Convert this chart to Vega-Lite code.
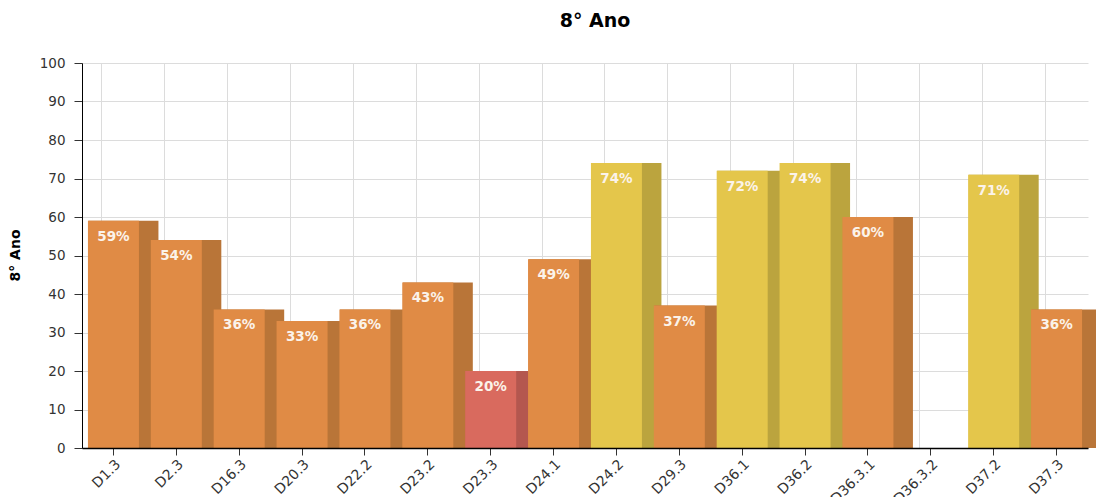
{
  "$schema": "https://vega.github.io/schema/vega-lite/v6.json",
  "width": 1014,
  "height": 385,
  "autosize": "none",
  "padding": {"left": 82, "top": 63, "right": 0, "bottom": 49},
  "background": "#ffffff",
  "config": {"view": {"stroke": null}, "font": "DejaVu Sans"},
  "title": {"text": "8° Ano", "font": "DejaVu Sans", "fontSize": 19, "fontWeight": "bold", "color": "#000000", "anchor": "middle", "dx": 6, "offset": 25},
  "data": {"values": [
    {"d": "D1.3", "v": 59, "label": "59%"},
    {"d": "D2.3", "v": 54, "label": "54%"},
    {"d": "D16.3", "v": 36, "label": "36%"},
    {"d": "D20.3", "v": 33, "label": "33%"},
    {"d": "D22.2", "v": 36, "label": "36%"},
    {"d": "D23.2", "v": 43, "label": "43%"},
    {"d": "D23.3", "v": 20, "label": "20%"},
    {"d": "D24.1", "v": 49, "label": "49%"},
    {"d": "D24.2", "v": 74, "label": "74%"},
    {"d": "D29.3", "v": 37, "label": "37%"},
    {"d": "D36.1", "v": 72, "label": "72%"},
    {"d": "D36.2", "v": 74, "label": "74%"},
    {"d": "D36.3.1", "v": 60, "label": "60%"},
    {"d": "D36.3.2", "v": 0, "label": ""},
    {"d": "D37.2", "v": 71, "label": "71%"},
    {"d": "D37.3", "v": 36, "label": "36%"}
  ]},
  "encoding": {
    "x": {"field": "d", "type": "nominal", "sort": null, "axis": null, "scale": {"range": [0, 1006], "paddingInner": 0, "paddingOuter": 0}},
    "y": {"field": "v", "type": "quantitative", "scale": {"domain": [0, 100], "nice": false}, "axis": {"values": [0,10,20,30,40,50,60,70,80,90,100], "labelOverlap": false, "grid": true, "gridColor": "#dcdcdc", "domainColor": "#000000", "tickColor": "#333333", "tickSize": 8, "labelPadding": 9, "labelFont": "DejaVu Sans", "labelFontSize": 13.5, "labelColor": "#333333", "title": "8° Ano", "titleFont": "DejaVu Sans", "titleFontSize": 14, "titleFontWeight": "bold", "titleColor": "#000000", "titleX": -67, "titleY": 192, "titleAngle": -90, "titleAlign": "center", "titleBaseline": "middle", "zindex": 0}}
  },
  "layer": [
    {
      "mark": {"type": "bar", "width": 70, "xOffset": 10},
      "encoding": {
        "x": {"field": "d", "type": "nominal", "sort": null, "axis": {"orient": "bottom", "grid": true, "gridColor": "#dcdcdc", "gridWidth": 1, "bandPosition": 0.317, "labels": false, "ticks": false, "domain": false, "title": null, "zindex": 0}},
        "color": {"field": "v", "type": "quantitative", "scale": {"type": "threshold", "domain": [30, 70], "range": ["#b4574f", "#b97538", "#bba43e"]}, "legend": null}
      }
    },
    {
      "mark": {"type": "bar", "width": 51},
      "encoding": {
        "x": {"field": "d", "type": "nominal", "sort": null, "axis": {"orient": "bottom", "grid": false, "domainColor": "#000000", "domainWidth": 1.5, "tickColor": "#333333", "tickSize": 7, "labelAngle": -45, "labelFont": "DejaVu Sans", "labelFontSize": 14, "labelColor": "#333333", "labelPadding": 2, "title": null, "zindex": 1}},
        "color": {"field": "v", "type": "quantitative", "scale": {"type": "threshold", "domain": [30, 70], "range": ["#d96a5e", "#e08b45", "#e4c64b"]}, "legend": null}
      }
    },
    {
      "transform": [{"filter": "datum.v > 0"}],
      "mark": {"type": "text", "baseline": "top", "align": "center", "dy": 9, "font": "DejaVu Sans", "fontSize": 13.5, "fontWeight": "bold", "color": "#fbf3ea"},
      "encoding": {
        "text": {"field": "label", "type": "nominal"}
      }
    }
  ],
  "resolve": {"scale": {"color": "independent"}, "axis": {"x": "independent"}}
}
